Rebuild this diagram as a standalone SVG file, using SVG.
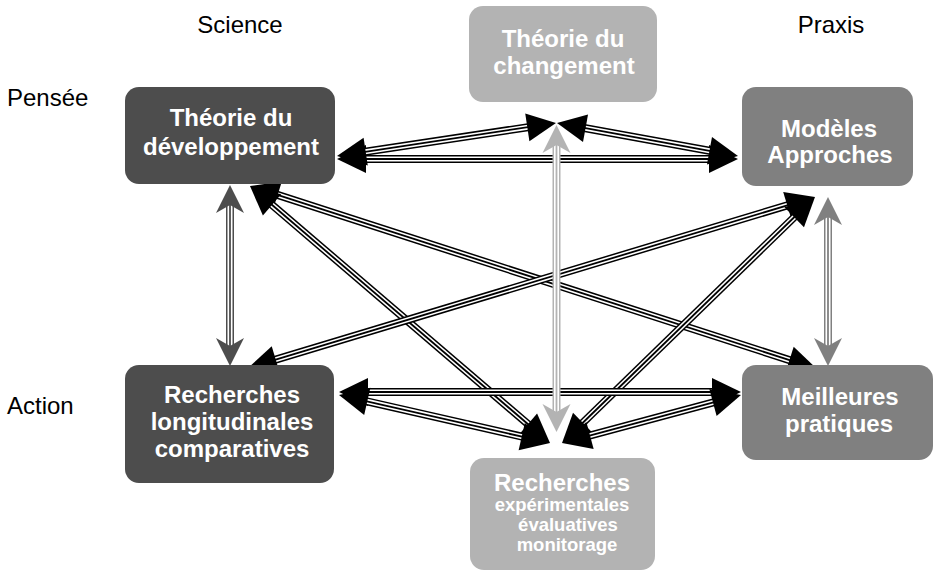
<svg xmlns="http://www.w3.org/2000/svg" width="939" height="576" viewBox="0 0 939 576">
<style>
.lbl{font-family:"Liberation Sans",Arial,sans-serif;font-size:24px;fill:#000}
.bt{font-family:"Liberation Sans",Arial,sans-serif;font-weight:bold;font-size:24px;fill:#fff;text-anchor:middle}
.st{font-size:18.5px}
.o{fill:none;stroke-width:8;stroke-linecap:butt}
.w{fill:none;stroke:#fff;stroke-width:5}
.c{fill:none;stroke-width:1.8}
.k{stroke:#000}
.g1{stroke:#4d4d4d}
.g2{stroke:#808080}
.g3{stroke:#b3b3b3}
.h{fill:none;stroke:none}
.dark{fill:#4d4d4d}
.mid{fill:#808080}
.light{fill:#b3b3b3}
</style>
<defs>
<marker id="mk" markerUnits="userSpaceOnUse" markerWidth="30" markerHeight="28" refX="29" refY="14" orient="auto-start-reverse" overflow="visible"><path d="M0,0 L29,14 L0,28 Z" fill="#000"/></marker>
<marker id="mg1" markerUnits="userSpaceOnUse" markerWidth="28" markerHeight="28" refX="28" refY="14" orient="auto-start-reverse" overflow="visible"><path d="M0,0 L28,14 L0,28 L8,14 Z" fill="#4d4d4d"/></marker>
<marker id="mg2" markerUnits="userSpaceOnUse" markerWidth="28" markerHeight="28" refX="28" refY="14" orient="auto-start-reverse" overflow="visible"><path d="M0,0 L28,14 L0,28 L8,14 Z" fill="#808080"/></marker>
<marker id="mg3" markerUnits="userSpaceOnUse" markerWidth="28" markerHeight="28" refX="28" refY="14" orient="auto-start-reverse" overflow="visible"><path d="M0,0 L28,14 L0,28 L8,14 Z" fill="#b3b3b3"/></marker>
</defs>
<rect width="939" height="576" fill="#fff"/>
<g id="labels">
<text class="lbl" x="240" y="33" text-anchor="middle">Science</text>
<text class="lbl" x="831" y="33" text-anchor="middle">Praxis</text>
<text class="lbl" x="7" y="106">Pensée</text>
<text class="lbl" x="7" y="414">Action</text>
</g>
<g id="connectors">
<!-- TD - MA -->
<g><line class="o k" x1="352" y1="159" x2="723" y2="159"/><line class="w" x1="352" y1="159" x2="723" y2="159"/><line class="c k" x1="352" y1="159" x2="723" y2="159"/><path class="h" d="M337,159 L738,159" marker-start="url(#mk)" marker-end="url(#mk)"/></g>
<!-- TD - TC -->
<g><line class="o k" x1="351.8" y1="153.8" x2="541.2" y2="125.2"/><line class="w" x1="351.8" y1="153.8" x2="541.2" y2="125.2"/><line class="c k" x1="351.8" y1="153.8" x2="541.2" y2="125.2"/><path class="h" d="M337,156 L556,123" marker-start="url(#mk)" marker-end="url(#mk)"/></g>
<!-- MA - TC -->
<g><line class="o k" x1="723.2" y1="153.3" x2="571.8" y2="125.7"/><line class="w" x1="723.2" y1="153.3" x2="571.8" y2="125.7"/><line class="c k" x1="723.2" y1="153.3" x2="571.8" y2="125.7"/><path class="h" d="M738,156 L557,123" marker-start="url(#mk)" marker-end="url(#mk)"/></g>
<!-- TD - MP -->
<g><line class="o k" x1="264.3" y1="190.6" x2="802.7" y2="364.4"/><line class="w" x1="264.3" y1="190.6" x2="802.7" y2="364.4"/><line class="c k" x1="264.3" y1="190.6" x2="802.7" y2="364.4"/><path class="h" d="M250,186 L817,369" marker-start="url(#mk)" marker-end="url(#mk)"/></g>
<!-- TD - RE -->
<g><line class="o k" x1="261.4" y1="195.8" x2="538.6" y2="433.2"/><line class="w" x1="261.4" y1="195.8" x2="538.6" y2="433.2"/><line class="c k" x1="261.4" y1="195.8" x2="538.6" y2="433.2"/><path class="h" d="M250,186 L550,443" marker-start="url(#mk)" marker-end="url(#mk)"/></g>
<!-- MA - RL -->
<g><line class="o k" x1="800.6" y1="201.3" x2="262.4" y2="363.7"/><line class="w" x1="800.6" y1="201.3" x2="262.4" y2="363.7"/><line class="c k" x1="800.6" y1="201.3" x2="262.4" y2="363.7"/><path class="h" d="M815,197 L248,368" marker-start="url(#mk)" marker-end="url(#mk)"/></g>
<!-- MA - RE -->
<g><line class="o k" x1="804.2" y1="207.5" x2="572.8" y2="432.5"/><line class="w" x1="804.2" y1="207.5" x2="572.8" y2="432.5"/><line class="c k" x1="804.2" y1="207.5" x2="572.8" y2="432.5"/><path class="h" d="M815,197 L562,443" marker-start="url(#mk)" marker-end="url(#mk)"/></g>
<!-- RL - MP -->
<g><line class="o k" x1="354" y1="392" x2="726" y2="392"/><line class="w" x1="354" y1="392" x2="726" y2="392"/><line class="c k" x1="354" y1="392" x2="726" y2="392"/><path class="h" d="M339,392 L741,392" marker-start="url(#mk)" marker-end="url(#mk)"/></g>
<!-- RL - RE -->
<g><line class="o k" x1="353.6" y1="398.3" x2="535.4" y2="439.7"/><line class="w" x1="353.6" y1="398.3" x2="535.4" y2="439.7"/><line class="c k" x1="353.6" y1="398.3" x2="535.4" y2="439.7"/><path class="h" d="M339,395 L550,443" marker-start="url(#mk)" marker-end="url(#mk)"/></g>
<!-- MP - RE -->
<g><line class="o k" x1="726.5" y1="398.9" x2="576.5" y2="439.1"/><line class="w" x1="726.5" y1="398.9" x2="576.5" y2="439.1"/><line class="c k" x1="726.5" y1="398.9" x2="576.5" y2="439.1"/><path class="h" d="M741,395 L562,443" marker-start="url(#mk)" marker-end="url(#mk)"/></g>
<!-- TD - RL -->
<g><line class="o g1" x1="230" y1="200" x2="230" y2="351"/><line class="w" x1="230" y1="200" x2="230" y2="351"/><line class="c g1" x1="230" y1="200" x2="230" y2="351"/><path class="h" d="M230,185 L230,366" marker-start="url(#mg1)" marker-end="url(#mg1)"/></g>
<!-- MA - MP -->
<g><line class="o g2" x1="828" y1="212" x2="828" y2="351"/><line class="w" x1="828" y1="212" x2="828" y2="351"/><line class="c g2" x1="828" y1="212" x2="828" y2="351"/><path class="h" d="M828,197 L828,366" marker-start="url(#mg2)" marker-end="url(#mg2)"/></g>
<!-- TC - RE -->
<g><line class="o g3" x1="556.5" y1="140" x2="556.5" y2="417"/><line class="w" x1="556.5" y1="140" x2="556.5" y2="417"/><line class="c g3" x1="556.5" y1="140" x2="556.5" y2="417"/><path class="h" d="M556.5,125 L556.5,432" marker-start="url(#mg3)" marker-end="url(#mg3)"/></g>
</g>
<g id="node-td">
<rect class="dark" x="125" y="87" width="210" height="97" rx="14"/>
<text class="bt" x="231" y="126">Théorie du</text>
<text class="bt" x="231" y="155">développement</text>
</g>
<g id="node-tc">
<rect class="light" x="469" y="6" width="188" height="96" rx="14"/>
<text class="bt" x="563" y="47">Théorie du</text>
<text class="bt" x="564" y="74">changement</text>
</g>
<g id="node-ma">
<rect class="mid" x="742" y="87" width="171" height="99" rx="14"/>
<text class="bt" x="829" y="137">Modèles</text>
<text class="bt" x="830" y="163">Approches</text>
</g>
<g id="node-rl">
<rect class="dark" x="125" y="365" width="209" height="118" rx="14"/>
<text class="bt" x="232" y="403">Recherches</text>
<text class="bt" x="232" y="430">longitudinales</text>
<text class="bt" x="232" y="457">comparatives</text>
</g>
<g id="node-mp">
<rect class="mid" x="742" y="365" width="191" height="95" rx="14"/>
<text class="bt" x="840" y="405">Meilleures</text>
<text class="bt" x="839" y="432">pratiques</text>
</g>
<g id="node-re">
<rect class="light" x="470" y="458" width="185" height="112" rx="14"/>
<text class="bt" x="562" y="491">Recherches</text>
<text class="bt st" x="562" y="511">expérimentales</text>
<text class="bt st" x="568" y="531">évaluatives</text>
<text class="bt st" x="567" y="551">monitorage</text>
</g>
</svg>
